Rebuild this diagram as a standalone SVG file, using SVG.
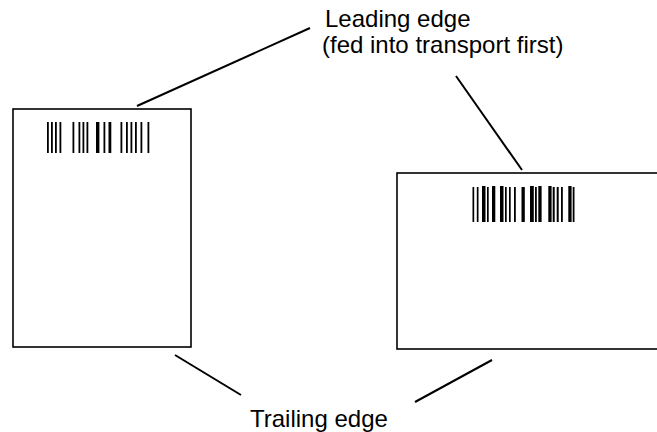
<svg xmlns="http://www.w3.org/2000/svg" width="657" height="432" viewBox="0 0 657 432">
<style>
.card{fill:#fff;stroke:#000;stroke-width:1.6}
.lead{stroke:#000;stroke-width:2;fill:none}
.lbl{font-family:"Liberation Sans",Arial,sans-serif;font-size:24px;fill:#000}
.bar{fill:#000}
</style>
<rect width="657" height="432" fill="#fff"/>
<g id="card-portrait">
<rect class="card" x="13" y="109" width="178" height="238"/>
<g class="bar">
<rect x="47" y="122" width="1.8" height="31"/>
<rect x="51" y="122" width="1.8" height="31"/>
<rect x="55" y="122" width="1.8" height="31"/>
<rect x="59.5" y="122" width="1.8" height="31"/>
<rect x="72.5" y="122" width="1.8" height="31"/>
<rect x="78.5" y="122" width="1.8" height="31"/>
<rect x="82.5" y="122" width="1.8" height="31"/>
<rect x="86.5" y="122" width="1.8" height="31"/>
<rect x="96" y="122" width="3.4" height="31"/>
<rect x="103.5" y="122" width="1.8" height="31"/>
<rect x="108.5" y="122" width="2.8" height="31"/>
<rect x="120.5" y="122" width="1.8" height="31"/>
<rect x="126" y="122" width="1.8" height="31"/>
<rect x="130.5" y="122" width="1.8" height="31"/>
<rect x="135" y="122" width="1.8" height="31"/>
<rect x="140.5" y="122" width="1.8" height="31"/>
<rect x="147.5" y="122" width="1.8" height="31"/>
</g>
</g>
<g id="card-landscape">
<rect class="card" x="397" y="173" width="264" height="176"/>
<g class="bar">
<rect x="472.5" y="187" width="1.7" height="35"/>
<rect x="476.8" y="187" width="1.7" height="35"/>
<rect x="482" y="186" width="3.5" height="36"/>
<rect x="487" y="187" width="1.7" height="35"/>
<rect x="492" y="186" width="3.3" height="36"/>
<rect x="500" y="186" width="3.5" height="36"/>
<rect x="505" y="187" width="1.7" height="35"/>
<rect x="509" y="187" width="1.7" height="35"/>
<rect x="514" y="187" width="1.8" height="35"/>
<rect x="521.5" y="187" width="3.3" height="35"/>
<rect x="530" y="186" width="3.8" height="36"/>
<rect x="535" y="187" width="1.8" height="35"/>
<rect x="538.3" y="186" width="3.3" height="36"/>
<rect x="548.3" y="186" width="3.3" height="36"/>
<rect x="552.7" y="187" width="2" height="35"/>
<rect x="556.7" y="187" width="2" height="35"/>
<rect x="561" y="187" width="1.8" height="35"/>
<rect x="568.3" y="186" width="3.3" height="36"/>
<rect x="572.7" y="187" width="1.8" height="35"/>
</g>
</g>
<g id="labels">
<text class="lbl" x="325" y="27">Leading edge</text>
<text class="lbl" x="322" y="53">(fed into transport first)</text>
<text class="lbl" x="250" y="427">Trailing edge</text>
</g>
<g id="connectors">
<line class="lead" x1="310" y1="28" x2="137" y2="106"/>
<line class="lead" x1="456" y1="76" x2="522" y2="170"/>
<line class="lead" x1="175" y1="355" x2="241" y2="395"/>
<line class="lead" x1="492" y1="360" x2="415" y2="402"/>
</g>
</svg>
